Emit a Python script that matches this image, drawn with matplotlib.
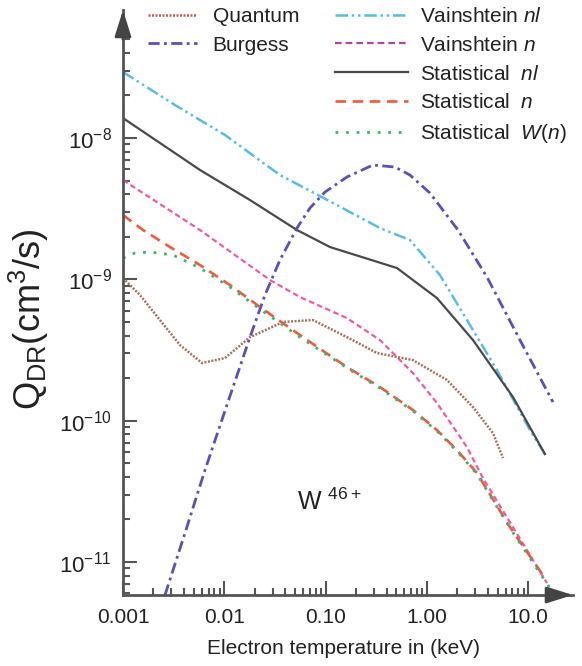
# taux de recombinaison dielectronique W46+
import matplotlib.pyplot as plt
from matplotlib.lines import Line2D
from matplotlib.ticker import FixedLocator, NullFormatter

plt.rcParams['font.family'] = ['Liberation Sans', 'DejaVu Sans']
plt.rcParams['mathtext.fontset'] = 'custom'
plt.rcParams['mathtext.rm'] = 'Liberation Sans'
plt.rcParams['mathtext.it'] = 'Liberation Sans:italic'
plt.rcParams['mathtext.default'] = 'regular'

# donnees (T en keV, Q en cm3/s)
T_quantum = [0.001, 0.001472, 0.002319, 0.003653, 0.006024, 0.01016, 0.01794, 0.03797,
             0.07508, 0.1627, 0.3216, 0.7292, 1.579, 2.852, 4.493, 5.640]
Q_quantum = [1.021e-9, 7.74e-10, 5.15e-10, 3.43e-10, 2.56e-10, 2.77e-10, 3.90e-10, 4.99e-10,
             5.15e-10, 3.90e-10, 3.01e-10, 2.68e-10, 1.94e-10, 1.248e-10, 8.17e-11, 5.44e-11]

T_burgess = [0.002598, 0.004093, 0.006450, 0.01087, 0.01794, 0.02522, 0.03546, 0.05221, 0.07015,
             0.09865, 0.1627, 0.2937, 0.4843, 0.6810, 1.073, 2.028, 3.920, 8.299, 17.57]
Q_burgess = [5.83e-12, 1.601e-11, 4.47e-11, 1.354e-10, 3.90e-10, 7.74e-10, 1.369e-9, 2.307e-9, 3.196e-9,
             4.146e-9, 5.30e-9, 6.44e-9, 6.23e-9, 5.47e-9, 4.08e-9, 2.233e-9, 1.038e-9, 3.72e-10, 1.354e-10]

T_vain_nl = [0.001, 0.003261, 0.01016, 0.03546, 0.08414, 0.3443, 0.6810, 1.347, 2.488, 4.920, 10.42, 14.65]
Q_vain_nl = [2.931e-8, 1.712e-8, 1.050e-8, 5.47e-9, 3.95e-9, 2.307e-9, 1.897e-9, 1.072e-9,
             5.15e-10, 2.28e-10, 8.58e-11, 5.80e-11]

T_vain_n = [0.001, 0.005756, 0.02826, 0.05587, 0.1627, 0.3443, 0.7292, 1.258, 2.488, 3.579, 7.078, 15.33]
Q_vain_n = [5.04e-9, 2.233e-9, 9.89e-10, 7.49e-10, 5.32e-10, 3.72e-10, 2.17e-10, 1.333e-10,
            6.50e-11, 3.92e-11, 1.766e-11, 7.09e-12]

T_stat_nl = [0.001, 0.002319, 0.005756, 0.01794, 0.05221, 0.1105, 0.5068, 1.258, 2.852, 7.078, 14.65]
Q_stat_nl = [1.384e-8, 9.22e-9, 5.94e-9, 3.64e-9, 2.233e-9, 1.693e-9, 1.202e-9, 7.37e-10,
             3.72e-10, 1.47e-10, 5.80e-11]

T_stat_n = [0.001, 0.001576, 0.002911, 0.005756, 0.01138, 0.02251, 0.05587, 0.1627, 0.3443,
            0.7292, 1.258, 1.982, 3.124, 6.612, 14.65]
Q_stat_n = [2.851e-9, 2.233e-9, 1.693e-9, 1.262e-9, 9.11e-10, 6.37e-10, 4.03e-10, 2.39e-10, 1.73e-10,
            1.189e-10, 8.58e-11, 6.19e-11, 4.26e-11, 1.766e-11, 7.69e-12]

T_stat_w = [0.001, 0.001314, 0.001847, 0.003116, 0.005756, 0.01138, 0.02251, 0.05587, 0.1627,
            0.3443, 0.7292, 1.258, 1.982, 3.124, 6.612, 16.42]
Q_stat_w = [1.415e-9, 1.535e-9, 1.560e-9, 1.486e-9, 1.202e-9, 8.82e-10, 6.16e-10, 3.90e-10, 2.36e-10,
            1.70e-10, 1.17e-10, 8.44e-11, 6.09e-11, 4.19e-11, 1.738e-11, 6.53e-12]

xticks = [1e-3, 1e-2, 1e-1, 1, 10]
xtick_labels = ['0.001', '0.01', '0.10', '1.00', '10.0']
yticks = [1e-11, 1e-10, 1e-9, 1e-8]
ytick_labels = ['10$^{-11}$', '10$^{-10}$', '10$^{-9}$', '10$^{-8}$']

axis_col = '#555555'

fig = plt.figure(figsize=(5.82, 6.66), dpi=100)
ax = fig.add_axes([0.2113, 0.1066, 0.7732, 0.8784])
ax.set_xscale('log')
ax.set_yscale('log')

ax.plot(T_vain_nl, Q_vain_nl, color='#58bde3', lw=1.8, dashes=(5, 1.5, 1, 1.5, 1, 1.5))
ax.plot(T_stat_nl, Q_stat_nl, color='#4a4a4a', lw=1.6)
ax.plot(T_burgess, Q_burgess, color='#5a4fbc', lw=2.0, dashes=(4, 1.6, 1, 1.6))
ax.plot(T_vain_n, Q_vain_n, color='#ee5aa8', lw=1.6, dashes=(2.5, 1.5))
ax.plot(T_quantum, Q_quantum, color='#a8705e', lw=1.8, dashes=(0.8, 0.6))
ax.plot(T_stat_n, Q_stat_n, color='#f05a3a', lw=1.9, dashes=(4, 2.5))
ax.plot(T_stat_w, Q_stat_w, color='#3cb46e', lw=2.0, dashes=(1, 2.8))

ax.set_xlim(1e-3, 27.7)
ax.set_ylim(5.84e-12, 8.05e-8)

ax.set_xticks(xticks)
ax.set_xticklabels(xtick_labels)
ax.set_yticks(yticks)
ax.set_yticklabels(ytick_labels)
ax.xaxis.set_minor_locator(FixedLocator([m * 10.0**e for e in range(-3, 1) for m in range(2, 10)]))
ymin = [m * 10.0**e for e in range(-12, -8) for m in range(2, 10)] + [2e-8, 3e-8, 4e-8, 5e-8]
ax.yaxis.set_minor_locator(FixedLocator(ymin))
ax.xaxis.set_minor_formatter(NullFormatter())
ax.yaxis.set_minor_formatter(NullFormatter())

ax.tick_params(which='both', direction='in', color=axis_col, width=1.5, labelcolor='#222222')
ax.tick_params(which='major', length=10)
ax.tick_params(which='minor', length=5)
ax.tick_params(axis='x', pad=9, labelsize=15)
ax.tick_params(axis='y', pad=8, labelsize=16)

for s in ['top', 'right']:
    ax.spines[s].set_visible(False)
for s in ['left', 'bottom']:
    ax.spines[s].set_color(axis_col)
    ax.spines[s].set_linewidth(2)

# fleches au bout des axes
arrow = dict(arrowstyle='-|>,head_length=0.8,head_width=0.25', color='#444444', lw=2,
             mutation_scale=20, shrinkA=0, shrinkB=0)
ax.annotate('', xy=(0, 1), xycoords='axes fraction', xytext=(0, 0.95), arrowprops=arrow,
            annotation_clip=False)
ax.annotate('', xy=(1, 0), xycoords='axes fraction', xytext=(0.95, 0), arrowprops=arrow,
            annotation_clip=False)

ax.set_ylabel('Q$_{DR}$(cm$^3$/s)', fontsize=26, color='#222222')
ax.yaxis.set_label_coords(-0.16, 0.472)
ax.set_xlabel('Electron temperature in (keV)', fontsize=15, color='#222222')
ax.xaxis.set_label_coords(0.489, -0.075)

ax.text(0.052, 2.65e-11, 'W $^{46+}$', fontsize=18, color='#222222', va='center', ha='left')

# legendes (deux blocs)
h1 = [Line2D([], [], color='#c05a4a', lw=1.8, dashes=(0.8, 0.6)),
      Line2D([], [], color='#5a4fbc', lw=2.0, dashes=(4, 1.6, 1, 1.6))]
l1 = ['Quantum', 'Burgess']
h2 = [Line2D([], [], color='#58bde3', lw=1.8, dashes=(5, 1.5, 1, 1.5, 1, 1.5)),
      Line2D([], [], color='#a8489e', lw=1.6, dashes=(3, 1.8)),
      Line2D([], [], color='#4a4a4a', lw=1.6),
      Line2D([], [], color='#f05a3a', lw=1.9, dashes=(4, 2.5)),
      Line2D([], [], color='#3cb46e', lw=2.0, dashes=(1, 2.8))]
l2 = ['Vainshtein $\\mathit{nl}$', 'Vainshtein $\\mathit{n}$', 'Statistical  $\\mathit{nl}$',
      'Statistical  $\\mathit{n}$', 'Statistical  $\\mathit{W(n)}$']

top = 1 - 7 / 666
leg1 = fig.legend(h1, l1, loc='upper left', bbox_to_anchor=(148 / 582, top), frameon=False,
                  fontsize=15, handlelength=2.35, handletextpad=0.75, labelspacing=0.47,
                  borderpad=0, borderaxespad=0)
for t in leg1.get_texts():
    t.set_color('#222222')
leg2 = fig.legend(h2, l2, loc='upper left', bbox_to_anchor=(335 / 582, top), frameon=False,
                  fontsize=15, handlelength=3.5, handletextpad=0.6, labelspacing=0.47,
                  borderpad=0, borderaxespad=0)
for t in leg2.get_texts():
    t.set_color('#222222')

fig.savefig('out.png', dpi=100)
